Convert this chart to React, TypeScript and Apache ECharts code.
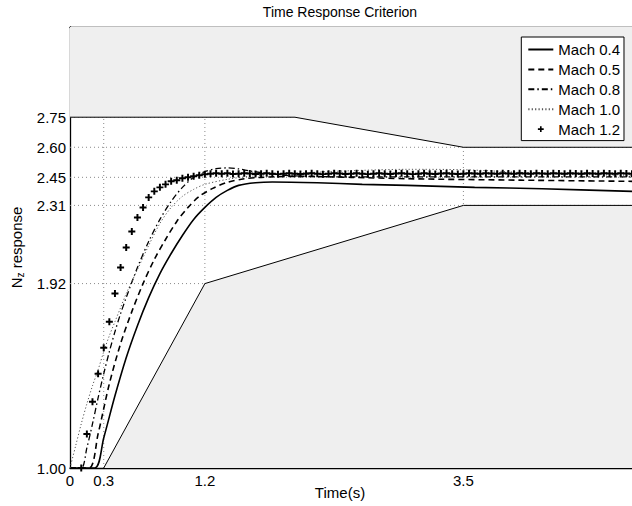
import React, { useEffect, useRef } from 'react';
import * as echarts from 'echarts';

// Axis ranges and ticks
const xMin = 0;
const xMax = 5;
const yMin = 1;
const yMax = 3.2;
const xTickValues = [0, 0.3, 1.2, 3.5];
const yTickValues = [1.0, 1.92, 2.31, 2.45, 2.6, 2.75];
const xGridValues = [0.3, 1.2, 3.5];
const yGridValues = [1.92, 2.31, 2.45, 2.6, 2.75];

// Criterion boundaries
const lowerBoundT = [0.3, 1.2, 3.5, 5.0];
const lowerBoundV = [1.0, 1.92, 2.31, 2.31];
const upperBoundT = [0.0, 2.0, 3.5, 5.0];
const upperBoundV = [2.75, 2.75, 2.6, 2.6];

// Mach 0.4 (solid)
const mach04T = [0, 0.22, 0.3, 0.4, 0.5, 0.6, 0.7, 0.8, 0.9, 1.0, 1.1, 1.2, 1.3, 1.4, 1.5, 1.65, 1.8, 2.2, 2.6, 3.0, 3.6, 4.2, 5.0];
const mach04V = [1.0, 1.0, 1.15, 1.36, 1.55, 1.71, 1.85, 1.97, 2.07, 2.16, 2.24, 2.3, 2.35, 2.385, 2.41, 2.423, 2.427, 2.423, 2.415, 2.41, 2.4, 2.393, 2.38];

// Mach 0.5 (dashed)
const mach05T = [0, 0.17, 0.25, 0.35, 0.45, 0.55, 0.65, 0.75, 0.85, 0.95, 1.05, 1.15, 1.27, 1.4, 1.55, 1.7, 2.0, 2.5, 3.0, 4.0, 5.0];
const mach05V = [1.0, 1.0, 1.17, 1.42, 1.62, 1.78, 1.92, 2.04, 2.14, 2.23, 2.3, 2.355, 2.395, 2.425, 2.443, 2.45, 2.455, 2.45, 2.443, 2.436, 2.43];

// Mach 0.8 (dash-dot)
const mach08T = [0, 0.1, 0.15, 0.2, 0.25, 0.3, 0.35, 0.4, 0.45, 0.5, 0.6, 0.7, 0.8, 0.9, 1.0, 1.1, 1.2, 1.3, 1.4, 1.5, 1.6, 1.8, 2.0, 2.5, 3.0, 4.0, 5.0];
const mach08V = [1.0, 1.0, 1.1, 1.22, 1.35, 1.47, 1.58, 1.68, 1.77, 1.85, 2.0, 2.13, 2.24, 2.33, 2.4, 2.45, 2.478, 2.493, 2.497, 2.492, 2.482, 2.466, 2.457, 2.452, 2.452, 2.452, 2.452];

// Mach 1.0 (dotted)
const mach10T = [0, 0.05, 0.1, 0.15, 0.2, 0.25, 0.3, 0.35, 0.4, 0.45, 0.5, 0.6, 0.7, 0.8, 0.9, 1.0, 1.1, 1.2, 1.4, 1.6, 2.0, 2.5, 3.0, 3.5, 4.0, 4.5, 5.0];
const mach10V = [1.0, 1.11, 1.22, 1.32, 1.41, 1.49, 1.58, 1.66, 1.73, 1.8, 1.87, 1.99, 2.11, 2.22, 2.3, 2.355, 2.39, 2.415, 2.44, 2.455, 2.47, 2.483, 2.49, 2.488, 2.475, 2.465, 2.46];

// Mach 1.2 (+ markers)
const mach12T = [
  0.1, 0.15, 0.2, 0.25, 0.3, 0.35, 0.4, 0.45, 0.5, 0.55, 0.6, 0.65, 0.7, 0.75, 0.8, 0.85, 0.9, 0.95, 1.0, 1.05,
  1.1, 1.15, 1.2, 1.25, 1.3, 1.35, 1.4, 1.45, 1.5, 1.55, 1.6, 1.65, 1.7, 1.75, 1.8, 1.85, 1.9, 1.95, 2.0, 2.05,
  2.1, 2.15, 2.2, 2.25, 2.3, 2.35, 2.4, 2.45, 2.5, 2.55, 2.6, 2.65, 2.7, 2.75, 2.8, 2.85, 2.9, 2.95, 3.0, 3.05,
  3.1, 3.15, 3.2, 3.25, 3.3, 3.35, 3.4, 3.45, 3.5, 3.55, 3.6, 3.65, 3.7, 3.75, 3.8, 3.85, 3.9, 3.95, 4.0, 4.05,
  4.1, 4.15, 4.2, 4.25, 4.3, 4.35, 4.4, 4.45, 4.5, 4.55, 4.6, 4.65, 4.7, 4.75, 4.8, 4.85, 4.9, 4.95, 5.0,
];
const mach12V = [
  1.0, 1.17, 1.33, 1.47, 1.6, 1.73, 1.87, 2.0, 2.1, 2.18, 2.25, 2.3, 2.35, 2.38, 2.4, 2.415, 2.43, 2.435, 2.445, 2.45,
  2.455, 2.46, 2.465, 2.468, 2.47, 2.468, 2.47, 2.467, 2.468, 2.47, 2.469, 2.467, 2.468, 2.47, 2.468, 2.466, 2.468, 2.47, 2.468, 2.467,
  2.468, 2.47, 2.468, 2.466, 2.468, 2.47, 2.469, 2.467, 2.468, 2.47, 2.468, 2.466, 2.468, 2.47, 2.468, 2.467, 2.469, 2.47, 2.468, 2.466,
  2.468, 2.47, 2.468, 2.467, 2.469, 2.47, 2.468, 2.467, 2.468, 2.47, 2.469, 2.468, 2.47, 2.469, 2.468, 2.47, 2.469, 2.468, 2.47, 2.469,
  2.468, 2.47, 2.469, 2.468, 2.47, 2.469, 2.468, 2.47, 2.469, 2.468, 2.47, 2.469, 2.468, 2.47, 2.469, 2.468, 2.47, 2.469, 2.468,
];

const seriesNames = ['Mach 0.4', 'Mach 0.5', 'Mach 0.8', 'Mach 1.0', 'Mach 1.2'];

const zip = (t: number[], v: number[]) => t.map((x, i) => [x, v[i]]);

const plusPath = 'path://M-0.28,-1H0.28V-0.28H1V0.28H0.28V1H-0.28V0.28H-1V-0.28H-0.28Z';
const plusLegendPath = 'path://M-2.4,-2.4M2.4,2.4M-0.28,-1H0.28V-0.28H1V0.28H0.28V1H-0.28V0.28H-1V-0.28H-0.28Z';

const FONT = "'Liberation Sans', Arial, Helvetica, sans-serif";

export default function App() {
  const ref = useRef<HTMLDivElement>(null);

  useEffect(() => {
    if (!ref.current) return;
    const chart = echarts.init(ref.current, null, { renderer: 'svg' });

    const gridLineStyle = { color: '#8a8a8a', width: 1, type: [1, 3] as any };
    const gridSeries: any[] = [
      ...xGridValues.map((x) => ({
        type: 'line',
        data: [[x, yMin], [x, yMax]],
        symbol: 'none',
        silent: true,
        z: 1,
        lineStyle: gridLineStyle,
      })),
      ...yGridValues.map((y) => ({
        type: 'line',
        data: [[xMin, y], [xMax, y]],
        symbol: 'none',
        silent: true,
        z: 1,
        lineStyle: gridLineStyle,
      })),
    ];

    const boundSeries: any[] = [
      {
        type: 'line',
        data: zip(lowerBoundT, lowerBoundV),
        symbol: 'none',
        silent: true,
        z: 2,
        lineStyle: { color: '#000', width: 1 },
        areaStyle: { color: '#efefef', opacity: 1, origin: 'start' },
      },
      {
        type: 'line',
        data: zip(upperBoundT, upperBoundV),
        symbol: 'none',
        silent: true,
        z: 2,
        lineStyle: { color: '#000', width: 1 },
        areaStyle: { color: '#efefef', opacity: 1, origin: 'end' },
      },
    ];

    const curveCommon = {
      type: 'line',
      symbol: 'none',
      smooth: 0.3,
      silent: true,
      z: 3,
    };

    const option: any = {
      animation: false,
      backgroundColor: '#fff',
      textStyle: { fontFamily: FONT },
      title: [
        {
          text: 'Time Response Criterion',
          left: 340,
          top: 5,
          padding: 0,
          textAlign: 'center',
          textStyle: { fontSize: 14, fontWeight: 'normal', color: '#000', fontFamily: FONT },
        },
        {
          text: 'Time(s)',
          left: 340,
          top: 485,
          padding: 0,
          textAlign: 'center',
          textStyle: { fontSize: 15, fontWeight: 'normal', color: '#000', fontFamily: FONT },
        },
      ],
      grid: { left: 70, top: 27, right: -16, bottom: 38, containLabel: false },
      xAxis: [
        {
          type: 'value',
          min: xMin,
          max: xMax,
          position: 'bottom',
          axisLine: { show: true, onZero: false, lineStyle: { color: '#000', width: 1.3 } },
          axisTick: { show: false },
          splitLine: { show: false },
          axisLabel: {
            customValues: xTickValues,
            color: '#000',
            fontSize: 15,
            fontFamily: FONT,
            margin: 5,
            formatter: (v: number) => String(v),
          },
        },
        {
          type: 'value',
          min: xMin,
          max: xMax,
          position: 'top',
          axisLine: { show: true, onZero: false, lineStyle: { color: '#000', width: 1.3 } },
          axisTick: { show: false },
          splitLine: { show: false },
          axisLabel: { show: false },
        },
      ],
      yAxis: {
        type: 'value',
        min: yMin,
        max: yMax,
        axisLine: { show: true, onZero: false, lineStyle: { color: '#000', width: 1.3 } },
        axisTick: { show: false },
        splitLine: { show: false },
        axisLabel: {
          customValues: yTickValues,
          color: '#000',
          fontSize: 15,
          fontFamily: FONT,
          margin: 4,
          formatter: (v: number) => v.toFixed(2),
        },
        name: '{n|N}{s|z}{n| response}',
        nameLocation: 'middle',
        nameGap: 40,
        nameTextStyle: {
          color: '#000',
          fontFamily: FONT,
          rich: {
            n: { fontSize: 15, lineHeight: 18, color: '#000', fontFamily: FONT },
            s: { fontSize: 10, lineHeight: 8, verticalAlign: 'bottom', color: '#000', fontFamily: FONT },
          },
        },
      },
      legend: {
        data: [
          { name: seriesNames[0] },
          { name: seriesNames[1] },
          { name: seriesNames[2] },
          { name: seriesNames[3] },
          { name: seriesNames[4], icon: plusLegendPath, itemStyle: { color: '#000', opacity: 1 } },
        ],
        orient: 'vertical',
        right: 8,
        top: 37,
        itemWidth: 25,
        itemHeight: 14,
        itemGap: 4.9,
        padding: [5, 4, 4, 6],
        borderColor: '#000',
        borderWidth: 1,
        borderRadius: 0,
        backgroundColor: '#fff',
        selectedMode: false,
        itemStyle: { opacity: 0 },
        textStyle: { fontSize: 15, color: '#000', fontFamily: FONT, lineHeight: 14 },
      },
      series: [
        ...gridSeries,
        ...boundSeries,
        {
          ...curveCommon,
          name: seriesNames[0],
          data: zip(mach04T, mach04V),
          lineStyle: { color: '#000', width: 1.6, type: 'solid' },
          itemStyle: { color: '#000' },
        },
        {
          ...curveCommon,
          name: seriesNames[1],
          data: zip(mach05T, mach05V),
          lineStyle: { color: '#000', width: 1.6, type: [6, 4] },
          itemStyle: { color: '#000' },
        },
        {
          ...curveCommon,
          name: seriesNames[2],
          data: zip(mach08T, mach08V),
          lineStyle: { color: '#000', width: 1.3, type: [6, 3, 1.5, 3] },
          itemStyle: { color: '#000' },
        },
        {
          ...curveCommon,
          name: seriesNames[3],
          data: zip(mach10T, mach10V),
          lineStyle: { color: '#555', width: 1, type: [1.2, 2.2] },
          itemStyle: { color: '#555' },
        },
        {
          type: 'scatter',
          name: seriesNames[4],
          data: zip(mach12T, mach12V),
          symbol: plusPath,
          symbolSize: 7,
          silent: true,
          z: 4,
          itemStyle: { color: '#000', opacity: 1 },
        },
      ],
    };

    chart.setOption(option);
    return () => {
      chart.dispose();
    };
  }, []);

  return (
    <div
      ref={ref}
      style={{ position: 'fixed', left: 0, top: 0, width: 632, height: 506, background: '#fff' }}
    />
  );
}
